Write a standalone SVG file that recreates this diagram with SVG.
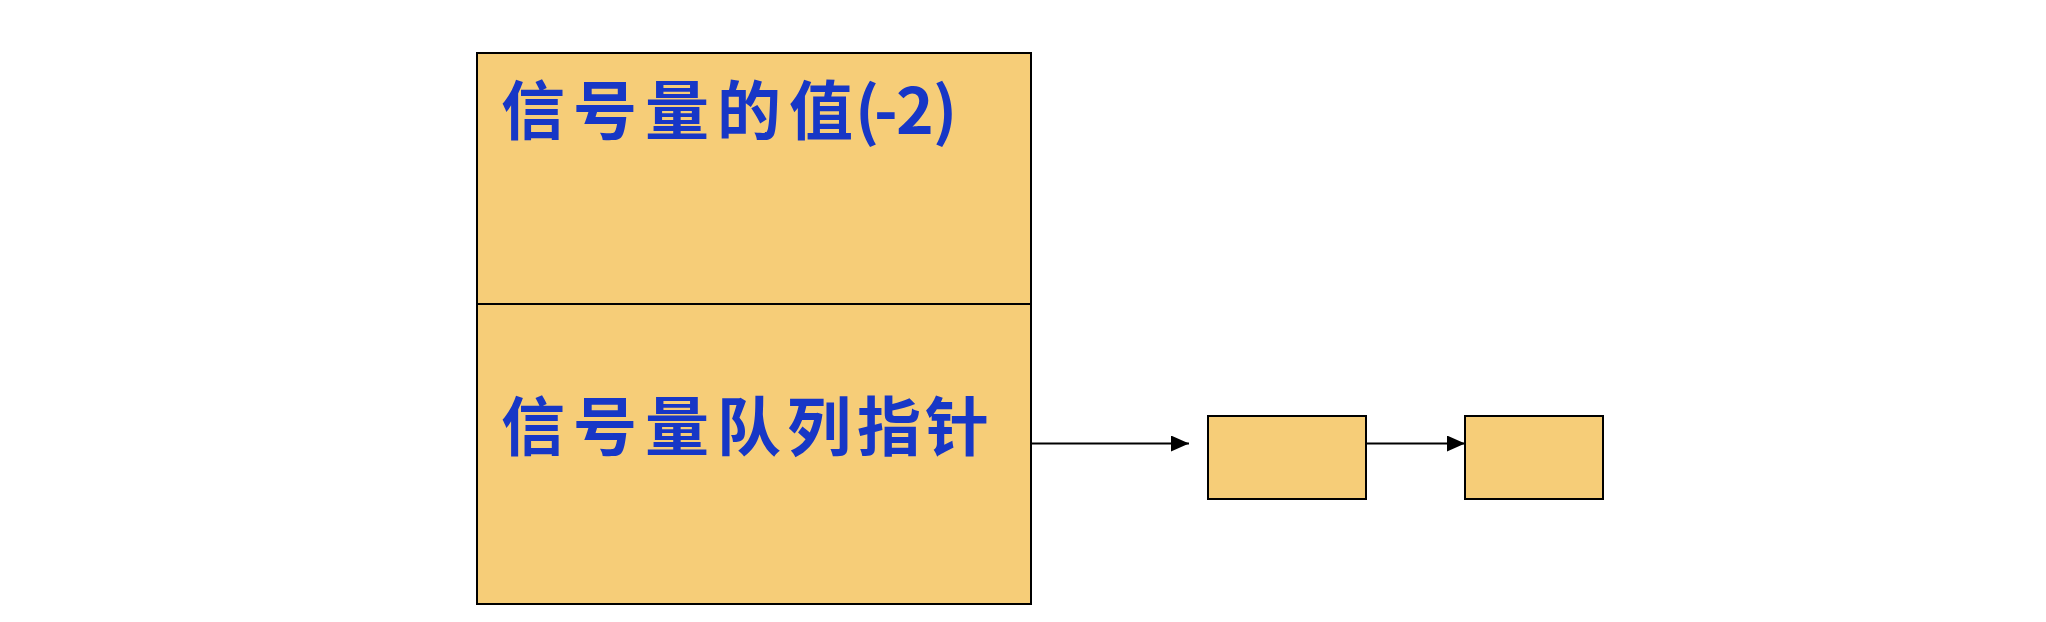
<svg xmlns="http://www.w3.org/2000/svg" width="2046" height="622" viewBox="0 0 2046 622">
<defs>
<style>
.box{fill:#F6CD78;stroke:#000;stroke-width:2}
.lbl{font-family:"KaiTi","Noto Sans CJK SC","Liberation Sans",sans-serif;font-size:64px;font-weight:bold;fill:#1737C6}
.conn{stroke:#000;stroke-width:2;fill:none}
</style>
<marker id="arr" viewBox="0 0 18 16" refX="18" refY="8" markerWidth="18" markerHeight="16" markerUnits="userSpaceOnUse" orient="auto">
<path d="M0,0 L18,8 L0,16 Z" fill="#000"/>
</marker>
</defs>
<rect width="2046" height="622" fill="#fff"/>
<g id="semaphore">
<rect class="box" x="477" y="53" width="554" height="551"/>
<line x1="477" y1="304" x2="1031" y2="304" stroke="#000" stroke-width="2"/>
<text class="lbl" x="501 573 645 717 789 855 874 896 933" y="134">信号量的值(-2)</text>
<text class="lbl" x="501 573 645 717 787 857 925" y="450">信号量队列指针</text>
</g>
<g id="pcb1">
<rect class="box" x="1208" y="416" width="158" height="83"/>
</g>
<g id="pcb2">
<rect class="box" x="1465" y="416" width="138" height="83"/>
</g>
<g id="connectors">
<line class="conn" x1="1031" y1="443.5" x2="1189" y2="443.5" marker-end="url(#arr)"/>
<line class="conn" x1="1366" y1="443.5" x2="1465" y2="443.5" marker-end="url(#arr)"/>
</g>
</svg>
